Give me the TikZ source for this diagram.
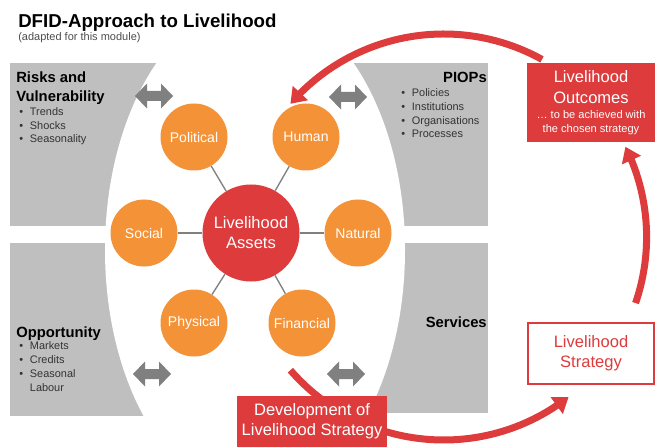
\documentclass[tikz,border=0pt]{standalone}
\usepackage{fontspec}
\setmainfont{Liberation Sans}
\usetikzlibrary{arrows.meta,bending}

\definecolor{panelgray}{HTML}{BFBFBF}
\definecolor{arrowgray}{HTML}{808080}
\definecolor{assetorange}{HTML}{F39237}
\definecolor{livered}{HTML}{DD3B3C}

\newcommand\bul{\makebox[8pt][l]{\textbullet}}

\begin{document}
\begin{tikzpicture}[x=0.75pt, y=0.75pt,
    asset/.style={circle, fill=assetorange, text=white, minimum size=50.25pt, inner sep=0pt,
      font=\fontsize{10.5}{12}\selectfont},
    spoke/.style={draw=arrowgray, line width=1pt},
    heading/.style={inner sep=0pt, align=left, font=\fontsize{11.1}{14.25}\selectfont\bfseries},
    bullets/.style={inner sep=0pt, align=left, text=black!80, font=\fontsize{8.2}{10.4}\selectfont},
    redbox/.style={rectangle, fill=livered, text=white, align=center, inner sep=0pt,
      font=\fontsize{12.4}{15}\selectfont},
    cyclearrow/.style={draw=livered, line width=5.25pt, -{Triangle[length=11pt,width=15pt]}},
    twoway/.pic={\fill[arrowgray] (-19,0) -- (-7,12.5) -- (-7,5) -- (7,5) -- (7,12.5)
      -- (19,0) -- (7,-12.5) -- (7,-5) -- (-7,-5) -- (-7,-12.5) -- cycle;}]
  \useasboundingbox (0,0) rectangle (657,447);

  % grey context panels, cut by the white oval
  \fill[panelgray] (10,221) rectangle (215,384);
  \fill[panelgray] (10,31) rectangle (215,204);
  \fill[panelgray] (295,221) rectangle (488,384);
  \fill[panelgray] (295,34) rectangle (488,204);
  \fill[white] (255,197) ellipse [x radius=112.5pt, y radius=186pt];

  \node (title) at (18,419) [anchor=base west, inner sep=0pt, font=\fontsize{14}{16}\selectfont\bfseries]
    {DFID-Approach to Livelihood};
  \node (subtitle) at (18,406) [anchor=base west, inner sep=0pt, text=black!70, font=\fontsize{8.25}{10}\selectfont]
    {(adapted for this module)};

  % multi-line nodes sit on the baseline of their last line
  \node (risks) at (16,345) [heading, anchor=base west] {Risks and\\Vulnerability};
  \node (risklist) at (19,304) [bullets, anchor=base west] {\bul Trends\\\bul Shocks\\\bul Seasonality};
  \node (piops) at (487,364) [heading, anchor=base east] {PIOPs};
  \node (piolist) at (401,309) [bullets, anchor=base west]
    {\bul Policies\\\bul Institutions\\\bul Organisations\\\bul Processes};
  \node (opport) at (16,110) [heading, anchor=base west] {Opportunity};
  \node (opplist) at (19,56) [bullets, anchor=base west]
    {\bul Markets\\\bul Credits\\\bul Seasonal\\\makebox[8pt]{}Labour};
  \node (services) at (487,120) [heading, anchor=base east] {Services};

  \foreach \p in {(154,351),(348,350),(152,73),(346,73)}
    \pic at \p {twoway};

  % the strategy cycle
  \coordinate (hub) at (443.6,210);
  \draw[cyclearrow] (hub) ++(61:152.25pt) arc[start angle=61, end angle=139, radius=152.25pt];
  \draw[cyclearrow] (hub) ++(-19:152.25pt) arc[start angle=-19, end angle=26.4, radius=152.25pt];
  \draw[cyclearrow] (hub) ++(-139:152.25pt) arc[start angle=-139, end angle=-52, radius=152.25pt];

  \node (outcomes) at (591,344.5) [redbox, minimum width=96pt, minimum height=59.25pt]
    {Livelihood\\[0.75pt]Outcomes\\[-3.75pt]{\fontsize{8.3}{10}\selectfont … to be achieved with}\\[-4.5pt]{\fontsize{8.3}{10}\selectfont the chosen strategy}};
  \node (strategy) at (591,93.5) [redbox, fill=white, draw=livered, line width=1.5pt, text=livered,
    minimum width=94.5pt, minimum height=45.75pt] {Livelihood\\Strategy};
  \node (develop) at (312,25.5) [redbox, minimum width=112.5pt, minimum height=38.25pt]
    {Development of\\Livelihood Strategy};

  \node (assets) at (251,214) [asset, fill=livered, minimum size=72.75pt, align=center,
    font=\fontsize{12.4}{15}\selectfont] {Livelihood\\Assets};
  \node (political) at (194,310) [asset] {Political};
  \node (human) at (306,310) [asset] {Human};
  \node (social) at (144,214) [asset] {Social};
  \node (natural) at (358,214) [asset] {Natural};
  \node (physical) at (194,124) [asset] {Physical};
  \node (financial) at (302,124) [asset] {Financial};
  \foreach \n in {political,human,social,natural,physical,financial}
    \draw[spoke] (assets) -- (\n);
\end{tikzpicture}
\end{document}
